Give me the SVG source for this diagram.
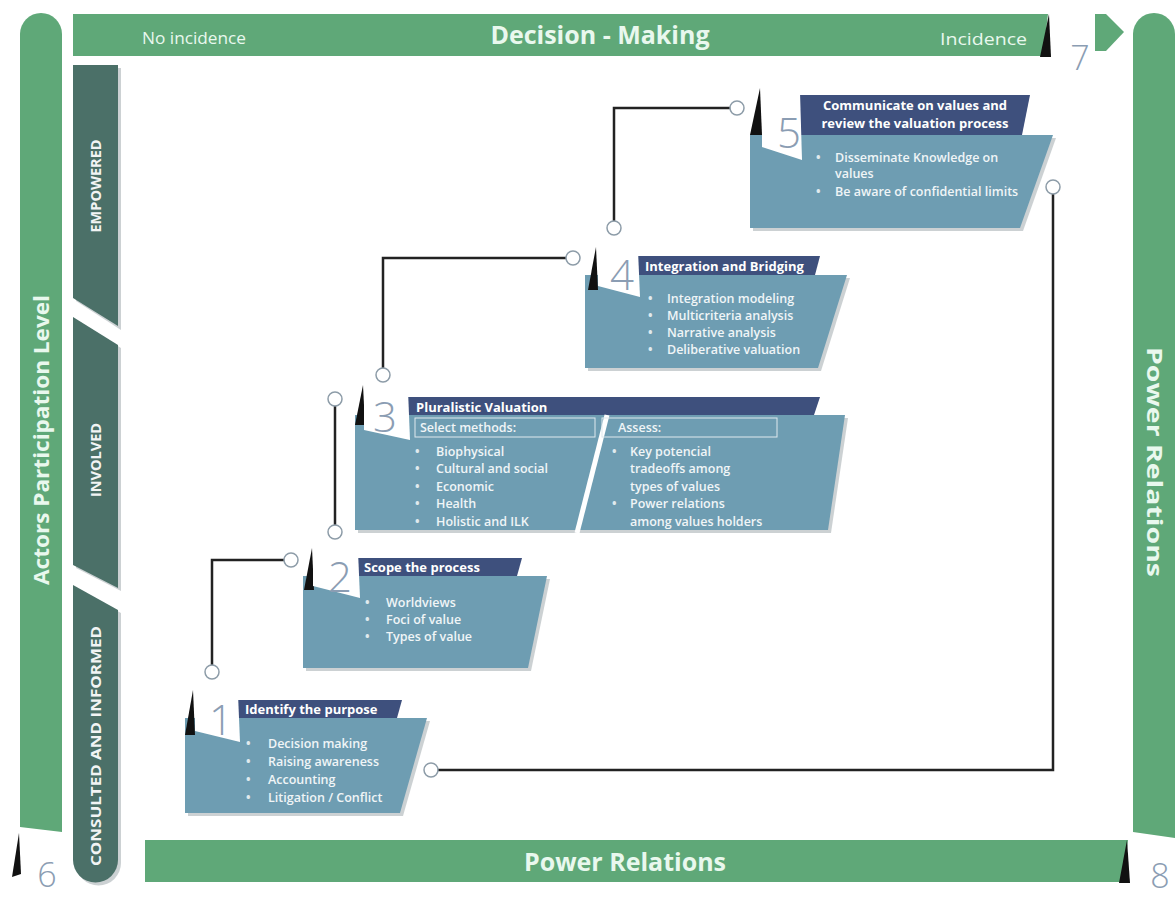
<svg xmlns="http://www.w3.org/2000/svg" width="1175" height="899" viewBox="0 0 1175 899">
<style>
.bar{fill:#5fa878}
.lvl{fill:#4b7068}
.body{fill:#6e9db2}
.hdr{fill:#3e507d}
.tab{fill:#ffffff}
.wedge{fill:#111}
.shadow{fill:#9aa3a8;opacity:.5}
.num{font-family:"Open Sans","Liberation Sans",sans-serif;font-size:42px;font-weight:300;fill:#8b9db3;text-anchor:middle}
.bignum{font-family:"Open Sans","Liberation Sans",sans-serif;font-size:34px;font-weight:300;fill:#8b9db3;text-anchor:middle}
.bt{font-family:"Open Sans","Liberation Sans",sans-serif;fill:#e9f8ee;font-weight:700}
.st{font-family:"Open Sans","Liberation Sans",sans-serif;fill:#e9f8ee;font-size:16px}
.lt{font-family:"Open Sans","Liberation Sans",sans-serif;fill:#f2f4f4;font-weight:700;font-size:14.5px;text-anchor:middle}
.ht{font-family:"Open Sans","Liberation Sans",sans-serif;fill:#ffffff;font-size:13px;font-weight:700}
.li{font-family:"Open Sans","Liberation Sans",sans-serif;fill:#f0f5f7;font-size:12.5px;font-weight:600}
.dot{font-family:"Open Sans","Liberation Sans",sans-serif;fill:#e0eaee;font-size:12px;font-weight:700}
.con{fill:none;stroke:#222;stroke-width:2.5}
.end{fill:#fff;stroke:#8d9ca8;stroke-width:1.5}
</style>

<!-- frame bars -->
<g id="top-bar">
  <polygon class="bar" points="73,14 1048,14 1043,56 73,56"/>
  <polygon class="wedge" points="1049,14 1051,57 1040,57"/>
  <text class="st" x="142" y="44" textLength="104" lengthAdjust="spacingAndGlyphs">No incidence</text>
  <text class="bt" x="600" y="44" font-size="25" text-anchor="middle">Decision - Making</text>
  <text class="st" x="940" y="45" textLength="87" lengthAdjust="spacingAndGlyphs">Incidence</text>
</g>
<g id="left-bar">
  <path class="bar" d="M20,34 A21,21 0 0 1 62,34 L62,832 L20,827 Z"/>
  <text class="bt" font-size="22" text-anchor="middle" transform="translate(49,440) rotate(-90)" textLength="290" lengthAdjust="spacingAndGlyphs">Actors Participation Level</text>
  <polygon class="wedge" points="19,833 21,874 12,877"/>
  <text class="bignum" x="47" y="887">6</text>
</g>
<g id="right-bar">
  <path class="bar" d="M1133,34 A21,21 0 0 1 1175,34 L1175,838 L1133,832 Z"/>
  <text class="bt" font-size="22" text-anchor="middle" transform="translate(1147,462) rotate(90)" textLength="230" lengthAdjust="spacingAndGlyphs">Power Relations</text>
  <text class="bignum" x="1160" y="888">8</text>
</g>
<g id="bottom-bar">
  <polygon class="bar" points="145,840 1128,840 1123,882 145,882"/>
  <polygon class="wedge" points="1127,840 1130,883 1119,883"/>
  <text class="bt" x="625" y="871" font-size="25" text-anchor="middle">Power Relations</text>
</g>
<g id="marker-7">
  <text class="bignum" x="1080" y="70">7</text>
  <polygon class="bar" points="1095,14 1106,14 1124,32 1106,51 1095,51"/>
</g>

<!-- participation levels -->
<g id="level-empowered">
  <polygon class="shadow" points="76,68 121,68 121,330 76,301"/>
  <polygon class="lvl" points="73,65 118,65 118,326 73,298"/>
  <text class="lt" transform="translate(101,186) rotate(-90)">EMPOWERED</text>
</g>
<g id="level-involved">
  <polygon class="shadow" points="76,320 121,348 121,591 76,568"/>
  <polygon class="lvl" points="73,317 118,345 118,588 73,565"/>
  <text class="lt" transform="translate(101,460) rotate(-90)">INVOLVED</text>
</g>
<g id="level-consulted">
  <path class="shadow" d="M76,588 L121,613 L121,863 A22.5,22.5 0 0 1 76,863 Z"/>
  <path class="lvl" d="M73,585 L118,610 L118,860 A22.5,22.5 0 0 1 73,860 Z"/>
  <text class="lt" transform="translate(101,746) rotate(-90)" textLength="240" lengthAdjust="spacingAndGlyphs">CONSULTED AND INFORMED</text>
</g>

<!-- connectors -->
<g id="connectors">
  <path class="con" d="M212,672 V560 H291"/>
  <path class="con" d="M335,532 V399"/>
  <path class="con" d="M383,375 V258 H573"/>
  <path class="con" d="M614,228 V108 H737"/>
  <path class="con" d="M1053,187 V770 H431"/>
  <circle class="end" cx="212" cy="672" r="7"/>
  <circle class="end" cx="291" cy="560" r="7"/>
  <circle class="end" cx="335" cy="532" r="7"/>
  <circle class="end" cx="335" cy="399" r="7"/>
  <circle class="end" cx="383" cy="375" r="7"/>
  <circle class="end" cx="573" cy="258" r="7"/>
  <circle class="end" cx="614" cy="228" r="7"/>
  <circle class="end" cx="737" cy="108" r="7"/>
  <circle class="end" cx="1053" cy="187" r="7"/>
  <circle class="end" cx="431" cy="770" r="7"/>
</g>

<!-- step 1 -->
<g id="step-1">
  <polygon class="shadow" points="188,721 430,721 403,816 188,816"/>
  <polygon class="body" points="185,718 427,718 400,813 185,813"/>
  <polygon class="hdr" points="238,700 402,700 397,718 238,718"/>
  <polygon class="wedge" points="193,690 195,735 185,735"/>
  <polygon class="tab" points="195,694 238,694 240,742 195,731"/>
  <text class="num" x="221" y="735">1</text>
  <text class="ht" x="245" y="714">Identify the purpose</text>
  <text class="dot" x="246" y="748">•</text><text class="li" x="268" y="748">Decision making</text>
  <text class="dot" x="246" y="766">•</text><text class="li" x="268" y="766">Raising awareness</text>
  <text class="dot" x="246" y="784">•</text><text class="li" x="268" y="784">Accounting</text>
  <text class="dot" x="246" y="802">•</text><text class="li" x="268" y="802">Litigation / Conflict</text>
</g>

<!-- step 2 -->
<g id="step-2">
  <polygon class="shadow" points="306,579 550,579 531,671 306,671"/>
  <polygon class="body" points="303,576 547,576 528,668 303,668"/>
  <polygon class="hdr" points="358,558 522,558 517,576 358,576"/>
  <polygon class="wedge" points="312,548 314,590 304,590"/>
  <polygon class="tab" points="313,551 358,551 360,598 313,586"/>
  <text class="num" x="340" y="592">2</text>
  <text class="ht" x="364" y="572">Scope the process</text>
  <text class="dot" x="365" y="607">•</text><text class="li" x="386" y="607">Worldviews</text>
  <text class="dot" x="365" y="624">•</text><text class="li" x="386" y="624">Foci of value</text>
  <text class="dot" x="365" y="641">•</text><text class="li" x="386" y="641">Types of value</text>
</g>

<!-- step 3 -->
<g id="step-3">
  <polygon class="shadow" points="358,418 848,418 831,533 358,533"/>
  <polygon class="body" points="355,415 845,415 828,530 355,530"/>
  <polygon class="hdr" points="408,397 820,397 814,415 408,415"/>
  <line x1="607" y1="415" x2="577" y2="533" stroke="#fff" stroke-width="5"/>
  <polygon class="wedge" points="363,385 365,425 355,425"/>
  <polygon class="tab" points="364,390 408,390 410,440 364,430"/>
  <text class="num" x="385" y="432">3</text>
  <text class="ht" x="416" y="412">Pluralistic Valuation</text>
  <rect x="415" y="418" width="180" height="19" fill="none" stroke="#dfe9ee" stroke-width="1"/>
  <rect x="602" y="418" width="175" height="19" fill="none" stroke="#dfe9ee" stroke-width="1"/>
  <text class="li" x="420" y="432" font-size="11.5" font-weight="400">Select methods:</text>
  <text class="li" x="618" y="432" font-size="11.5" font-weight="400">Assess:</text>
  <text class="dot" x="415" y="456">•</text><text class="li" x="436" y="456">Biophysical</text>
  <text class="dot" x="415" y="473">•</text><text class="li" x="436" y="473">Cultural and social</text>
  <text class="dot" x="415" y="491">•</text><text class="li" x="436" y="491">Economic</text>
  <text class="dot" x="415" y="508">•</text><text class="li" x="436" y="508">Health</text>
  <text class="dot" x="415" y="526">•</text><text class="li" x="436" y="526">Holistic and ILK</text>
  <text class="dot" x="612" y="456">•</text><text class="li" x="630" y="456">Key potencial</text>
  <text class="li" x="630" y="473">tradeoffs among</text>
  <text class="li" x="630" y="491">types of values</text>
  <text class="dot" x="612" y="508">•</text><text class="li" x="630" y="508">Power relations</text>
  <text class="li" x="630" y="526">among values holders</text>
</g>

<!-- step 4 -->
<g id="step-4">
  <polygon class="shadow" points="588,278 850,278 821,371 588,371"/>
  <polygon class="body" points="585,275 847,275 818,368 585,368"/>
  <polygon class="hdr" points="638,256 820,256 815,275 638,275"/>
  <polygon class="wedge" points="596,247 598,290 588,290"/>
  <polygon class="tab" points="598,250 638,250 640,297 598,286"/>
  <text class="num" x="622" y="290">4</text>
  <text class="ht" x="645" y="271">Integration and Bridging</text>
  <text class="dot" x="648" y="303">•</text><text class="li" x="667" y="303">Integration modeling</text>
  <text class="dot" x="648" y="320">•</text><text class="li" x="667" y="320">Multicriteria analysis</text>
  <text class="dot" x="648" y="337">•</text><text class="li" x="667" y="337">Narrative analysis</text>
  <text class="dot" x="648" y="354">•</text><text class="li" x="667" y="354">Deliberative valuation</text>
</g>

<!-- step 5 -->
<g id="step-5">
  <polygon class="shadow" points="753,138 1056,138 1023,231 753,231"/>
  <polygon class="body" points="750,135 1053,135 1020,228 750,228"/>
  <polygon class="hdr" points="800,95 1030,95 1022,135 800,135"/>
  <polygon class="wedge" points="760,88 762,135 750,135"/>
  <polygon class="tab" points="762,92 800,92 802,160 762,147"/>
  <text class="num" x="789" y="148">5</text>
  <text class="ht" x="915" y="110" text-anchor="middle">Communicate on values and</text>
  <text class="ht" x="915" y="128" text-anchor="middle">review the valuation process</text>
  <text class="dot" x="816" y="162">•</text><text class="li" x="835" y="162">Disseminate Knowledge on</text>
  <text class="li" x="835" y="178">values</text>
  <text class="dot" x="816" y="196">•</text><text class="li" x="835" y="196">Be aware of confidential limits</text>
</g>
</svg>
